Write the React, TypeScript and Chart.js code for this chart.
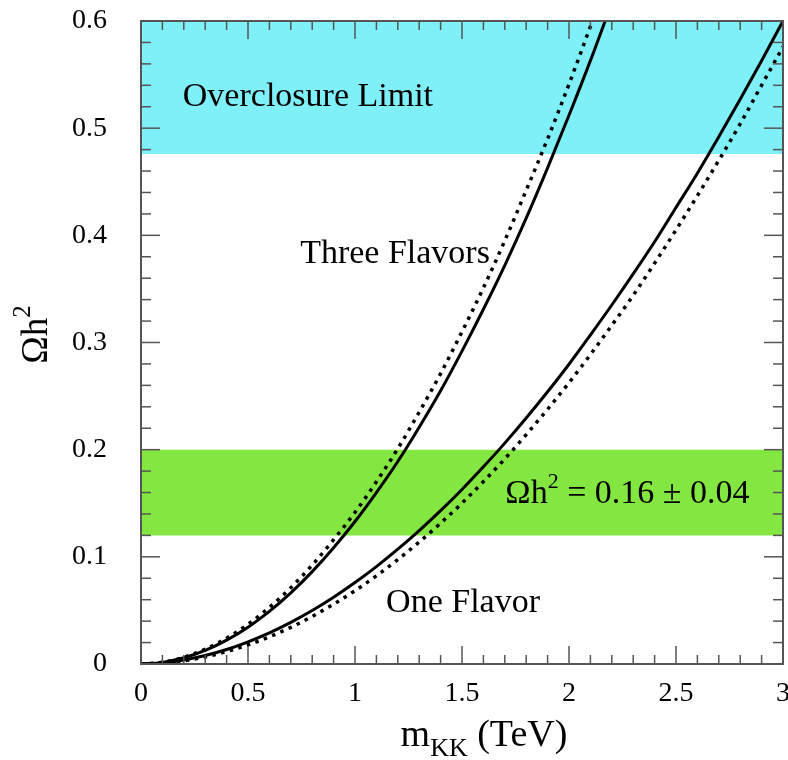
import React, { useEffect, useRef } from "react";
import { Chart, registerables } from "chart.js";

Chart.register(...registerables);

// m_KK (TeV) sample points
const mkkValues = [
  0, 0.1, 0.2, 0.3, 0.4, 0.5, 0.6, 0.7, 0.8, 0.9, 1.0, 1.1, 1.2, 1.3, 1.4, 1.5,
  1.6, 1.7, 1.8, 1.9, 2.0, 2.1, 2.2, 2.3, 2.4, 2.5, 2.6, 2.7, 2.8, 2.9, 3.0,
];

// Omega h^2 curves
const threeFlavorSolid = [
  0, 0.0015, 0.0058, 0.0127, 0.0223, 0.0344, 0.0491, 0.0664, 0.0862, 0.1085,
  0.133, 0.16, 0.189, 0.221, 0.255, 0.292, 0.331, 0.372, 0.416, 0.463, 0.512,
  0.563, 0.617,
];
const threeFlavorDotted = [
  0, 0.0016, 0.0063, 0.0138, 0.0241, 0.0371, 0.0529, 0.0712, 0.0923, 0.116,
  0.1415, 0.17, 0.201, 0.235, 0.271, 0.31, 0.351, 0.395, 0.442, 0.49, 0.541,
  0.595, 0.65,
];
const oneFlavorSolid = [
  0, 0.001, 0.0037, 0.0079, 0.0135, 0.0207, 0.0291, 0.0389, 0.0499, 0.0623,
  0.076, 0.0909, 0.1071, 0.1245, 0.1431, 0.1629, 0.184, 0.2061, 0.2295, 0.254,
  0.2797, 0.307, 0.335, 0.364, 0.394, 0.426, 0.458, 0.492, 0.527, 0.563, 0.6,
];
const oneFlavorDotted = [
  0, 0.0008, 0.003, 0.0066, 0.0116, 0.0178, 0.0254, 0.0342, 0.0444, 0.0558,
  0.0684, 0.0823, 0.0974, 0.1138, 0.1314, 0.1501, 0.1702, 0.1914, 0.214,
  0.2377, 0.2625, 0.2887, 0.316, 0.344, 0.374, 0.405, 0.437, 0.47, 0.504, 0.54,
  0.576,
];

// Horizontal bands [low, high]
const overclosureBand = [0.476, 0.6];
const relicBand = [0.12, 0.2];

// Axis ranges
const xRange = [0, 3];
const yRange = [0, 0.6];

// Annotation texts (anchor in data coordinates, baseline)
const annotationLabels = ["Overclosure Limit", "Three Flavors", "One Flavor"];
const annotationX = [0.78, 1.187, 1.505];
const annotationY = [0.5205, 0.374, 0.0485];
const relicLabelParts = ["Ωh", "2", " = 0.16 ± 0.04"];
const relicLabelAt = [2.273, 0.15];

const SERIF = "'Liberation Serif', 'Times New Roman', serif";
const CYAN = "#80F0F8";
const GREEN = "#84E640";

function pts(vals: number[]) {
  return vals.map((v, i) => ({ x: mkkValues[i], y: v }));
}

function band(v: number) {
  return [
    { x: xRange[0], y: v },
    { x: xRange[1], y: v },
  ];
}

type Seg = { text: string; size: number; dy?: number };

function drawRich(ctx: CanvasRenderingContext2D, segs: Seg[], x: number, y: number, align: "center" | "left") {
  let total = 0;
  const widths = segs.map((s) => {
    ctx.font = `${s.size}px ${SERIF}`;
    const w = ctx.measureText(s.text).width;
    total += w;
    return w;
  });
  let cx = align === "center" ? x - total / 2 : x;
  ctx.textAlign = "left";
  ctx.textBaseline = "alphabetic";
  segs.forEach((s, i) => {
    ctx.font = `${s.size}px ${SERIF}`;
    ctx.fillText(s.text, cx, y + (s.dy || 0));
    cx += widths[i];
  });
}

const decorPlugin = {
  id: "decor",
  afterDatasetsDraw(chart: any) {
    const { ctx, chartArea: ca, scales } = chart;
    const xs = scales.x;
    const ys = scales.y;
    ctx.save();
    ctx.strokeStyle = "#555";
    ctx.lineWidth = 1.5;
    const seg = (x1: number, y1: number, x2: number, y2: number) => {
      ctx.beginPath();
      ctx.moveTo(x1, y1);
      ctx.lineTo(x2, y2);
      ctx.stroke();
    };
    for (let i = 0; i <= 30; i++) {
      const px = xs.getPixelForValue(i / 10);
      const len = i % 5 === 0 ? 18 : 9;
      seg(px, ca.bottom, px, ca.bottom - len);
      seg(px, ca.top, px, ca.top + len);
    }
    for (let i = 0; i <= 30; i++) {
      const py = ys.getPixelForValue(i * 0.02);
      const len = i % 5 === 0 ? 19 : 10;
      seg(ca.left, py, ca.left + len, py);
      seg(ca.right, py, ca.right - len, py);
    }
    ctx.lineWidth = 2;
    ctx.strokeRect(ca.left, ca.top, ca.right - ca.left, ca.bottom - ca.top);

    ctx.fillStyle = "#000";
    annotationLabels.forEach((t, i) => {
      drawRich(ctx, [{ text: t, size: 34 }], xs.getPixelForValue(annotationX[i]), ys.getPixelForValue(annotationY[i]), "center");
    });
    drawRich(
      ctx,
      [
        { text: relicLabelParts[0], size: 34 },
        { text: relicLabelParts[1], size: 22, dy: -15 },
        { text: relicLabelParts[2], size: 34 },
      ],
      xs.getPixelForValue(relicLabelAt[0]),
      ys.getPixelForValue(relicLabelAt[1]),
      "center"
    );

    // x axis title
    drawRich(
      ctx,
      [
        { text: "m", size: 38 },
        { text: "KK", size: 26, dy: 10 },
        { text: " (TeV)", size: 38 },
      ],
      (ca.left + ca.right) / 2 + 22,
      746,
      "center"
    );
    // y axis title
    ctx.translate(37, (ca.top + ca.bottom) / 2 - 8);
    ctx.rotate(-Math.PI / 2);
    drawRich(
      ctx,
      [
        { text: "Ωh", size: 37 },
        { text: "2", size: 25, dy: -17 },
      ],
      0,
      10,
      "center"
    );
    ctx.restore();
  },
};

function zeroPad(s: any) {
  s.paddingLeft = 0;
  s.paddingRight = 0;
  s.paddingTop = 0;
  s.paddingBottom = 0;
}

export default function App() {
  const ref = useRef<HTMLCanvasElement>(null);
  useEffect(() => {
    if (!ref.current) return;
    const solid = { borderColor: "#000", borderWidth: 3, pointRadius: 0, fill: false, cubicInterpolationMode: "monotone" as const, clip: 0, order: 1 };
    const dotted = { ...solid, borderWidth: 3.5, borderDash: [3.5, 5.5] };
    const bandBase = { borderWidth: 0, pointRadius: 0, order: 5, clip: 0 };
    const chart = new Chart(ref.current, {
      type: "line",
      data: {
        datasets: [
          { ...bandBase, data: band(overclosureBand[0]), fill: false, borderColor: "transparent" },
          { ...bandBase, data: band(overclosureBand[1]), fill: "-1", backgroundColor: CYAN, borderColor: "transparent" },
          { ...bandBase, data: band(relicBand[0]), fill: false, borderColor: "transparent" },
          { ...bandBase, data: band(relicBand[1]), fill: "-1", backgroundColor: GREEN, borderColor: "transparent" },
          { ...solid, data: pts(threeFlavorSolid) },
          { ...dotted, data: pts(threeFlavorDotted) },
          { ...solid, data: pts(oneFlavorSolid) },
          { ...dotted, data: pts(oneFlavorDotted) },
        ] as any,
      },
      options: {
        animation: false,
        responsive: false,
        layout: { padding: { top: 21, right: 5, left: 0, bottom: 0 } },
        plugins: { legend: { display: false }, tooltip: { enabled: false } },
        scales: {
          x: {
            type: "linear",
            min: xRange[0],
            max: xRange[1],
            grid: { display: false },
            border: { display: false },
            ticks: {
              stepSize: 0.5,
              color: "#000",
              font: { family: SERIF, size: 28 },
              padding: 5,
              maxRotation: 0,
              callback: (v: any) => String(Number(v)),
            },
            afterFit: (s: any) => {
              s.height = 96;
              zeroPad(s);
            },
          },
          y: {
            type: "linear",
            min: yRange[0],
            max: yRange[1],
            grid: { display: false },
            border: { display: false },
            ticks: {
              stepSize: 0.1,
              color: "#000",
              font: { family: SERIF, size: 28 },
              padding: 26,
              callback: (v: any) => String(Number(Number(v).toFixed(2))),
            },
            afterFit: (s: any) => {
              s.width = 141;
              zeroPad(s);
            },
          },
        },
      },
      plugins: [decorPlugin],
    });
    return () => chart.destroy();
  }, []);
  return (
    <div style={{ position: "absolute", left: 0, top: 0, width: 788, height: 760, background: "#fff" }}>
      <canvas ref={ref} width={788} height={760} style={{ width: 788, height: 760 }} />
    </div>
  );
}
